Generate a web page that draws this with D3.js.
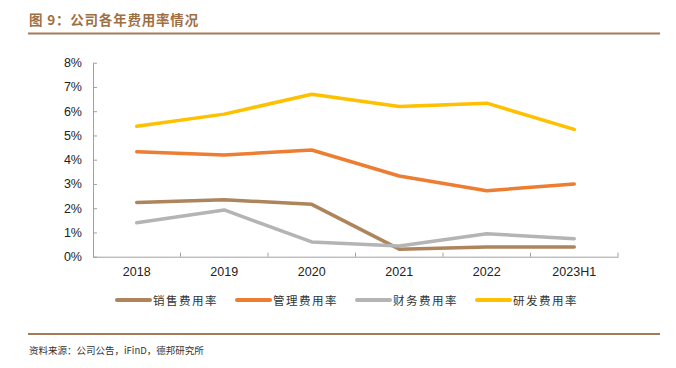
<!DOCTYPE html>
<html><head><meta charset="utf-8">
<script src="https://cdn.jsdelivr.net/npm/d3@7"></script>
<style>
html,body{margin:0;padding:0;background:#fff;}
svg{display:block;}
</style></head>
<body>
<script>
const categories = ["2018","2019","2020","2021","2022","2023H1"];
const seriesNames = ["销售费用率","管理费用率","财务费用率","研发费用率"];
const sales   = [2.24, 2.35, 2.16, 0.31, 0.40, 0.40];
const admin   = [4.33, 4.19, 4.40, 3.33, 2.72, 3.00];
const finance = [1.40, 1.93, 0.61, 0.44, 0.95, 0.74];
const rnd     = [5.38, 5.88, 6.70, 6.19, 6.33, 5.25];
const yTicks  = [0,1,2,3,4,5,6,7,8];
const colors  = ["#AD845C","#ED7D31","#B4B4B4","#FFC000"];

const W = 676, H = 368;
const svg = d3.select("body").append("svg").attr("width", W).attr("height", H);

const fontCJK = "'Noto Sans CJK SC', sans-serif";
const fontLat = "'Liberation Sans', Arial, sans-serif";

// title
svg.append("text").attr("x", 29).attr("y", 25)
  .attr("font-family", fontCJK).attr("font-size", 13.5).attr("font-weight", "bold")
  .attr("fill", "#9E6F45").attr("letter-spacing", 0.8)
  .text("图 9：公司各年费用率情况");
svg.append("line").attr("x1", 28).attr("x2", 660).attr("y1", 33.5).attr("y2", 33.5)
  .attr("stroke", "#A27C58").attr("stroke-width", 2);

// scales
const x = d3.scaleBand().domain(categories).range([93, 618]);
const y = d3.scaleLinear().domain([0, 8]).range([256.7, 62.7]);

const g = svg.append("g");
// y axis
const yAxis = d3.axisLeft(y).tickValues(yTicks).tickFormat(d => d + "%").tickSize(4).tickSizeOuter(0);
const ya = g.append("g").attr("transform", "translate(93,0)").call(yAxis);
ya.select(".domain").attr("stroke", "#A0A0A0");
ya.selectAll(".tick line").attr("stroke", "#A0A0A0").attr("x2", 4).attr("x1", 0);
ya.selectAll(".tick text").attr("x", -11).attr("font-family", fontLat).attr("font-size", 12.5).attr("fill", "#222");

// x axis
const xAxis = d3.axisBottom(x).tickSize(0).tickSizeOuter(0);
const xa = g.append("g").attr("transform", `translate(0,${y(0)})`).call(xAxis);
xa.select(".domain").attr("stroke", "#A0A0A0");
xa.selectAll(".tick text").attr("dy", "0").attr("y", 19).attr("font-family", fontLat).attr("font-size", 12.5).attr("fill", "#222");
// band boundary ticks (upward)
const bounds = categories.map(c => x(c)).concat([x.range()[1]]);
g.selectAll(".btick").data(bounds.slice(1)).enter().append("line")
  .attr("x1", d => d).attr("x2", d => d).attr("y1", y(0)).attr("y2", y(0) - 4)
  .attr("stroke", "#A0A0A0");

// lines
const data = [sales, admin, finance, rnd];
const line = d3.line().x((d, i) => x(categories[i]) + x.bandwidth() / 2).y(d => y(d));
g.selectAll(".series").data(data).enter().append("path")
  .attr("d", d => line(d)).attr("fill", "none")
  .attr("stroke", (d, i) => colors[i]).attr("stroke-width", 3.5)
  .attr("stroke-linejoin", "round").attr("stroke-linecap", "round");

// legend
const legX = [117, 237, 357, 477];
const leg = svg.append("g");
seriesNames.forEach((n, i) => {
  leg.append("line").attr("x1", legX[i]).attr("x2", legX[i] + 33).attr("y1", 300).attr("y2", 300)
    .attr("stroke", colors[i]).attr("stroke-width", 4).attr("stroke-linecap", "round");
  leg.append("text").attr("x", legX[i] + 36).attr("y", 304.5)
    .attr("font-family", fontCJK).attr("font-size", 11.5).attr("fill", "#333").attr("letter-spacing", 1.5)
    .text(n);
});

// bottom rule and source
svg.append("line").attr("x1", 28).attr("x2", 660).attr("y1", 334).attr("y2", 334)
  .attr("stroke", "#A27C58").attr("stroke-width", 2);
svg.append("text").attr("x", 29).attr("y", 354)
  .attr("font-family", fontCJK).attr("font-size", 9.5).attr("fill", "#333")
  .text("资料来源：公司公告，iFinD，德邦研究所");
</script>
</body></html>
